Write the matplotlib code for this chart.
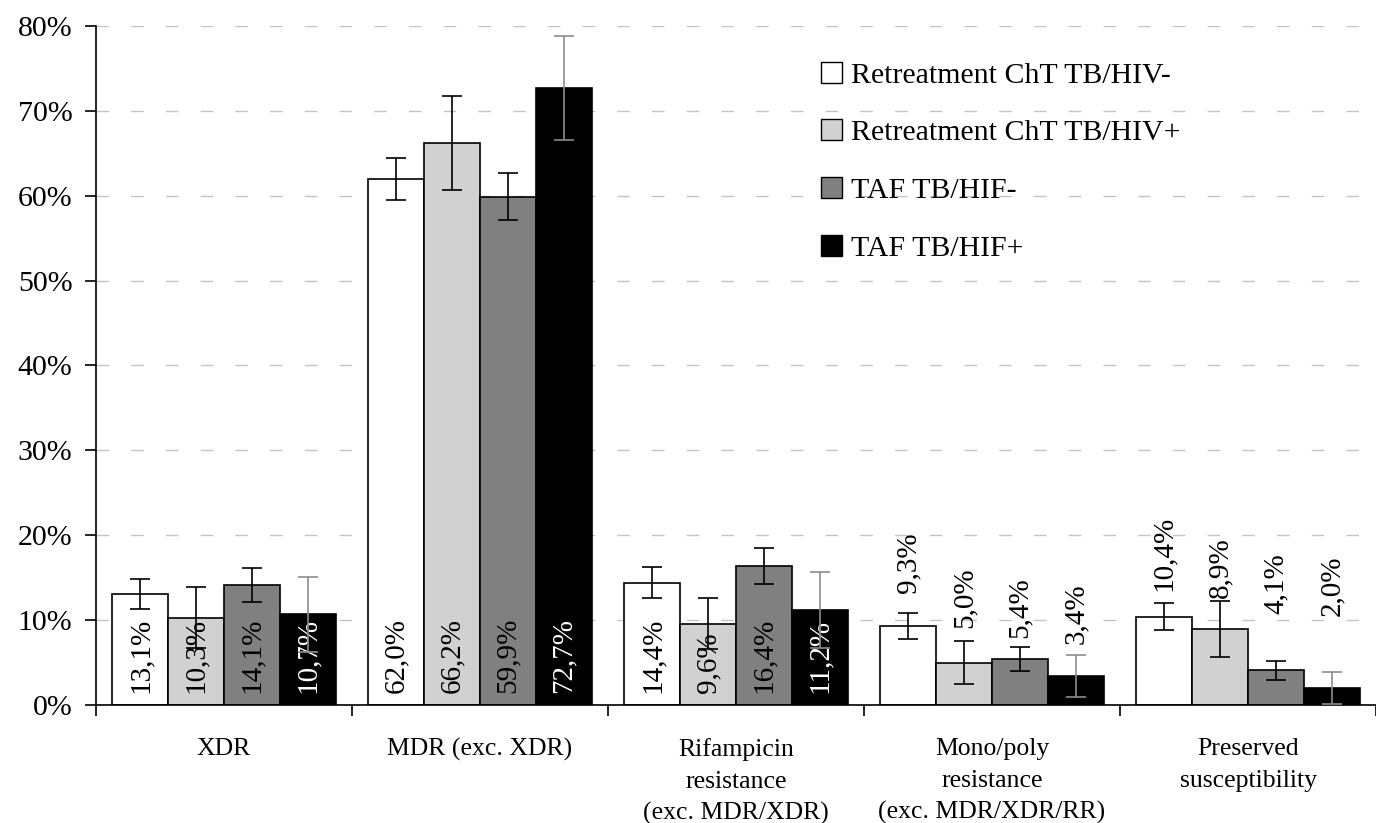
import numpy as np
import matplotlib
matplotlib.use('Agg')
import matplotlib.pyplot as plt
from matplotlib.patches import Patch
from matplotlib.ticker import FixedLocator, NullFormatter

plt.rcParams['font.family'] = ['Liberation Serif', 'DejaVu Serif']

categories = ['XDR', 'MDR (exc. XDR)', 'Rifampicin\nresistance\n(exc. MDR/XDR)',
              'Mono/poly\nresistance\n(exc. MDR/XDR/RR)', 'Preserved\nsusceptibility']
series_names = ['Retreatment ChT TB/HIV-', 'Retreatment ChT TB/HIV+',
                'TAF TB/HIF-', 'TAF TB/HIF+']

# percent per group, one list per series
retreat_hiv_neg = [13.1, 62.0, 14.4, 9.3, 10.4]
retreat_hiv_pos = [10.3, 66.2, 9.6, 5.0, 8.9]
taf_hif_neg = [14.1, 59.9, 16.4, 5.4, 4.1]
taf_hif_pos = [10.7, 72.7, 11.2, 3.4, 2.0]

# half-width of the confidence intervals
err_retreat_hiv_neg = [1.8, 2.5, 1.8, 1.5, 1.6]
err_retreat_hiv_pos = [3.6, 5.5, 3.0, 2.5, 3.3]
err_taf_hif_neg = [2.0, 2.8, 2.1, 1.4, 1.1]
err_taf_hif_pos = [4.4, 6.1, 4.5, 2.5, 1.9]

values = [retreat_hiv_neg, retreat_hiv_pos, taf_hif_neg, taf_hif_pos]
errors = [err_retreat_hiv_neg, err_retreat_hiv_pos, err_taf_hif_neg, err_taf_hif_pos]

# where the labels sit for the small groups (drawn above the bars)
label_y_above = {3: [13.2, 9.1, 7.9, 7.2], 4: [13.4, 12.6, 10.7, 10.5]}

face_colors = ['white', '#d0d1d0', '#808080', 'black']
err_colors = ['black', 'black', 'black', '#8c8c8c']
text_colors = ['black', 'black', 'black', 'white']

fig = plt.figure(figsize=(13.76, 8.23), dpi=100)
ax = fig.add_axes([0.0698, 0.1434, 0.9302, 0.8250])

x = np.arange(len(categories))
width = 0.218

for i in range(4):
    pos = x + (i - 1.5) * width
    ax.bar(pos, values[i], width, color=face_colors[i], edgecolor='black',
           linewidth=1.2, zorder=2, label=series_names[i])
    ax.errorbar(pos, values[i], yerr=errors[i], fmt='none', ecolor=err_colors[i],
                elinewidth=1.2, capsize=7, capthick=1.2, zorder=4)
    for g in range(len(categories)):
        txt = f'{values[i][g]:.1f}%'.replace('.', ',')
        if g in label_y_above:
            ax.text(pos[g], label_y_above[g][i], txt, rotation=90, ha='center',
                    va='bottom', fontsize=21, color='black', zorder=3)
        else:
            ax.text(pos[g], 1.4, txt, rotation=90, ha='center', va='bottom',
                    fontsize=21, color=text_colors[i], zorder=3)

ax.set_xlim(-0.5, len(categories) - 0.5)
ax.set_ylim(0, 80)
ax.set_yticks(np.arange(0, 81, 10))
ax.set_yticklabels([f'{v}%' for v in range(0, 81, 10)], fontsize=21.5)
ax.tick_params(axis='y', length=8, width=1.2, pad=9)

ax.set_xticks(x)
ax.set_xticklabels(categories, fontsize=18.5, linespacing=1.55)
ax.tick_params(axis='x', which='major', length=0, pad=24)
ax.xaxis.set_minor_locator(FixedLocator(np.arange(-0.5, len(categories), 1.0)))
ax.xaxis.set_minor_formatter(NullFormatter())
ax.tick_params(axis='x', which='minor', length=8, width=1.2)

for t in ax.get_xticklabels():
    t.set_verticalalignment('top')

for y in range(10, 81, 10):
    ax.axhline(y, color='#c4c4c4', linewidth=1.0, dashes=(9, 16), zorder=1)

ax.spines['top'].set_visible(False)
ax.spines['right'].set_visible(False)
ax.spines['left'].set_linewidth(1.2)
ax.spines['bottom'].set_linewidth(1.2)

handles = [Patch(facecolor=c, edgecolor='black', linewidth=1.0) for c in face_colors]
ax.legend(handles, series_names, loc='upper left', bbox_to_anchor=(0.597, 0.925),
          bbox_transform=fig.transFigure, frameon=False, fontsize=21.5,
          handlelength=0.7, handleheight=0.7, handletextpad=0.3,
          labelspacing=1.03, borderpad=0, borderaxespad=0)

fig.savefig('out.png', dpi=100)
